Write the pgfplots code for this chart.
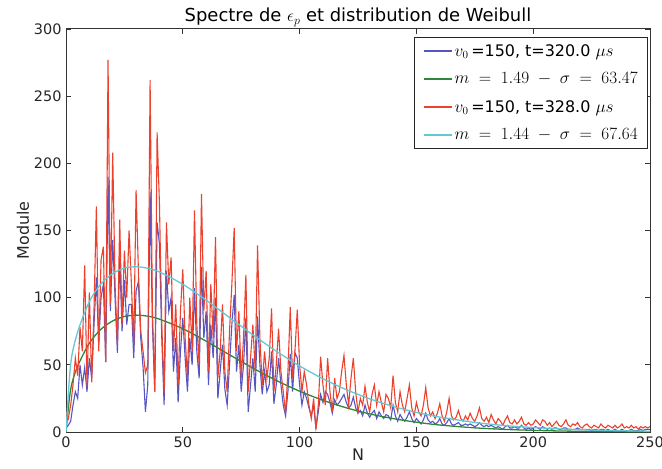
\documentclass[border=0pt]{standalone}
\usepackage{pgfplots}
\usepackage{pgfplotstable}
\pgfplotsset{compat=1.18}
\usepackage{fontspec}
\setmainfont{DejaVu Sans}
\definecolor{mblue}{RGB}{85,85,195}
\definecolor{mred}{RGB}{235,65,45}
\definecolor{mgreen}{RGB}{45,135,55}
\definecolor{mcyan}{RGB}{100,200,212}
\pgfplotstableread{
N red blue
0 15 3
1 10 5
2 20 8
3 35 20
4 55 30
5 42 25
6 78 50
7 60 35
8 124 48
9 34 30
10 104 55
11 37 40
12 92 80
13 168 115
14 60 65
15 128 100
16 138 110
17 52 52
18 277 190
19 95 90
20 208 143
21 110 100
22 65 59
23 158 130
24 80 75
25 135 113
26 100 80
27 150 95
28 110 95
29 65 55
30 180 105
31 120 112
32 75 70
33 60 48
34 44 15
35 50 35
36 262 179
37 90 80
38 30 30
39 223 156
40 170 140
41 80 70
42 29 20
43 156 120
44 110 90
45 130 100
46 60 45
47 95 70
48 35 22
49 90 60
50 121 85
51 70 55
52 40 30
53 100 70
54 60 50
55 165 107
56 80 60
57 50 40
58 177 123
59 90 70
60 120 90
61 45 35
62 110 80
63 70 55
64 145 100
65 40 25
66 60 45
67 95 65
68 45 32
69 30 20
70 75 50
71 110 80
72 152 102
73 60 45
74 90 65
75 40 30
76 70 50
77 117 85
78 30 15
79 55 35
80 80 55
81 45 30
82 139 86
83 70 50
84 35 28
85 60 45
86 40 30
87 55 35
88 92 60
89 30 21
90 50 35
91 77 55
92 45 35
93 30 20
94 14 12
95 45 30
96 93 58
97 40 30
98 60 59
99 91 55
100 50 35
101 30 20
102 45 30
103 35 25
104 20 18
105 10 12
106 25 20
107 2 3
108 20 15
109 56 28
110 35 22
111 20 30
112 55 28
113 30 22
114 15 14
115 40 24
116 25 20
117 30 22
118 45 25
119 57 28
120 35 22
121 20 18
122 40 20
123 55 26
124 30 18
125 15 14
126 25 16
127 20 12
128 34 20
129 22 14
130 15 11
131 28 14
132 35 16
133 20 10
134 30 15
135 22 12
136 15 10
137 28 13
138 25 12
139 18 9
140 42 20
141 22 12
142 15 8
143 30 13
144 20 10
145 15 8
146 25 11
147 35 15
148 18 10
149 12 7
150 22 10
151 15 8
152 12 6
153 20 9
154 33 14
155 18 9
156 12 7
157 15 8
158 10 6
159 14 7
160 21 10
161 12 6
162 8 5
163 15 7
164 25 10
165 12 6
166 9 5
167 11 6
168 16 7
169 10 5
170 8 5
171 12 6
172 9 5
173 14 6
174 10 5
175 8 4
176 12 5
177 18 7
178 10 5
179 8 4
180 11 5
181 7 4
182 13 5
183 9 4
184 6 3
185 10 4
186 8 3
187 5 2
188 9 4
189 12 5
190 7 3
191 6 3
192 9 4
193 6 3
194 8 3
195 11 5
196 6 3
197 5 2
198 7 3
199 5 2
200 6 3
201 9 4
202 7 3
203 5 2
204 9 4
205 8 3
206 5 2
207 7 3
208 4 2
209 6 3
210 8 3
211 5 2
212 4 2
213 6 3
214 9 3
215 5 2
216 4 2
217 6 2
218 5 2
219 7 3
220 4 2
221 3 2
222 5 2
223 6 2
224 4 2
225 3 1
226 5 2
227 4 2
228 3 1
229 6 2
230 4 2
231 3 1
232 5 2
233 4 1
234 3 1
235 5 2
236 3 1
237 4 1
238 6 2
239 3 1
240 4 1
241 3 1
242 5 2
243 3 1
244 4 1
245 2 1
246 4 2
247 3 1
248 4 2
249 3 2
250 4 2
}\spectra
\begin{document}
\begin{tikzpicture}
\useasboundingbox (-66bp,-37bp) rectangle (596bp,432bp);
\begin{axis}[
  at={(0,0)}, anchor=south west,
  width=584bp, height=403bp, scale only axis,
  xmin=0, xmax=250, ymin=0, ymax=300,
  xtick={0,50,...,250}, ytick={0,50,...,300},
  tick align=inside, major tick length=5bp,
  minor tick num=0,
  axis line style={line width=1bp, black!80},
  tick style={black!80, line width=0.7bp},
  /pgf/number format/assume math mode=true,
  ticklabel style={font=\fontsize{14.5}{16}\selectfont, text=black!85},
  xticklabel style={yshift=-1bp},
  yticklabel style={xshift=-1bp},
  xlabel={N}, ylabel={Module},
  label style={font=\fontsize{16}{18}\selectfont, text=black!85},
  xlabel style={yshift=5bp},
  ylabel style={yshift=-2bp},
  title={Spectre de $\epsilon_p$ et distribution de Weibull},
  title style={font=\fontsize{18}{20}\selectfont, yshift=-7bp},
  legend style={at={(0.997,0.98)}, anchor=north east, draw=black!85, line width=1bp,
    font=\fontsize{16}{18}\selectfont, inner xsep=8bp, inner ysep=5bp, row sep=11bp,
    /tikz/every even column/.append style={column sep=17bp}},
  legend cell align=left,
  legend image code/.code={\draw[#1, line width=1.6bp] (0bp,0bp) -- (28bp,0bp);},
]
\addplot[mblue, line width=1.1bp] table[x=N, y=blue] {\spectra};
\addlegendentry{$v_0$\,=150, t=320.0 $\mu s$}
\addplot[mgreen, line width=1.3bp, smooth] coordinates {
(0,0) (2,31.8) (5,49.0) (10,66.1) (15,76.5) (20,82.7) (25,86.0) (30,87.0) (35,86.2) (40,84.0)
(50,76.9) (60,67.6) (70,57.5) (80,47.6) (90,38.4) (100,30.4) (110,23.6) (120,18.0) (130,13.5)
(140,10.0) (150,7.3) (160,5.2) (175,3.1) (190,1.8) (210,0.8) (230,0.4) (250,0.2)};
\addlegendentry{$m\;=\;1.49\;-\;\sigma\;=\;63.47$}
\addplot[mred, line width=1.1bp] table[x=N, y=red] {\spectra};
\addlegendentry{$v_0$\,=150, t=328.0 $\mu s$}
\addplot[mcyan, line width=1.3bp, smooth] coordinates {
(0,0) (2,50.6) (5,74.5) (10,97.0) (15,110.3) (20,118.0) (25,122.0) (30,123.0) (35,121.9) (40,119.1)
(50,110.0) (60,98.1) (70,85.2) (80,72.3) (90,60.2) (100,49.2) (110,39.6) (120,31.5) (130,24.7)
(140,19.1) (150,14.6) (160,11.1) (175,7.1) (190,4.5) (210,2.4) (230,1.2) (250,0.6)};
\addlegendentry{$m\;=\;1.44\;-\;\sigma\;=\;67.64$}
\end{axis}
\end{tikzpicture}
\end{document}
